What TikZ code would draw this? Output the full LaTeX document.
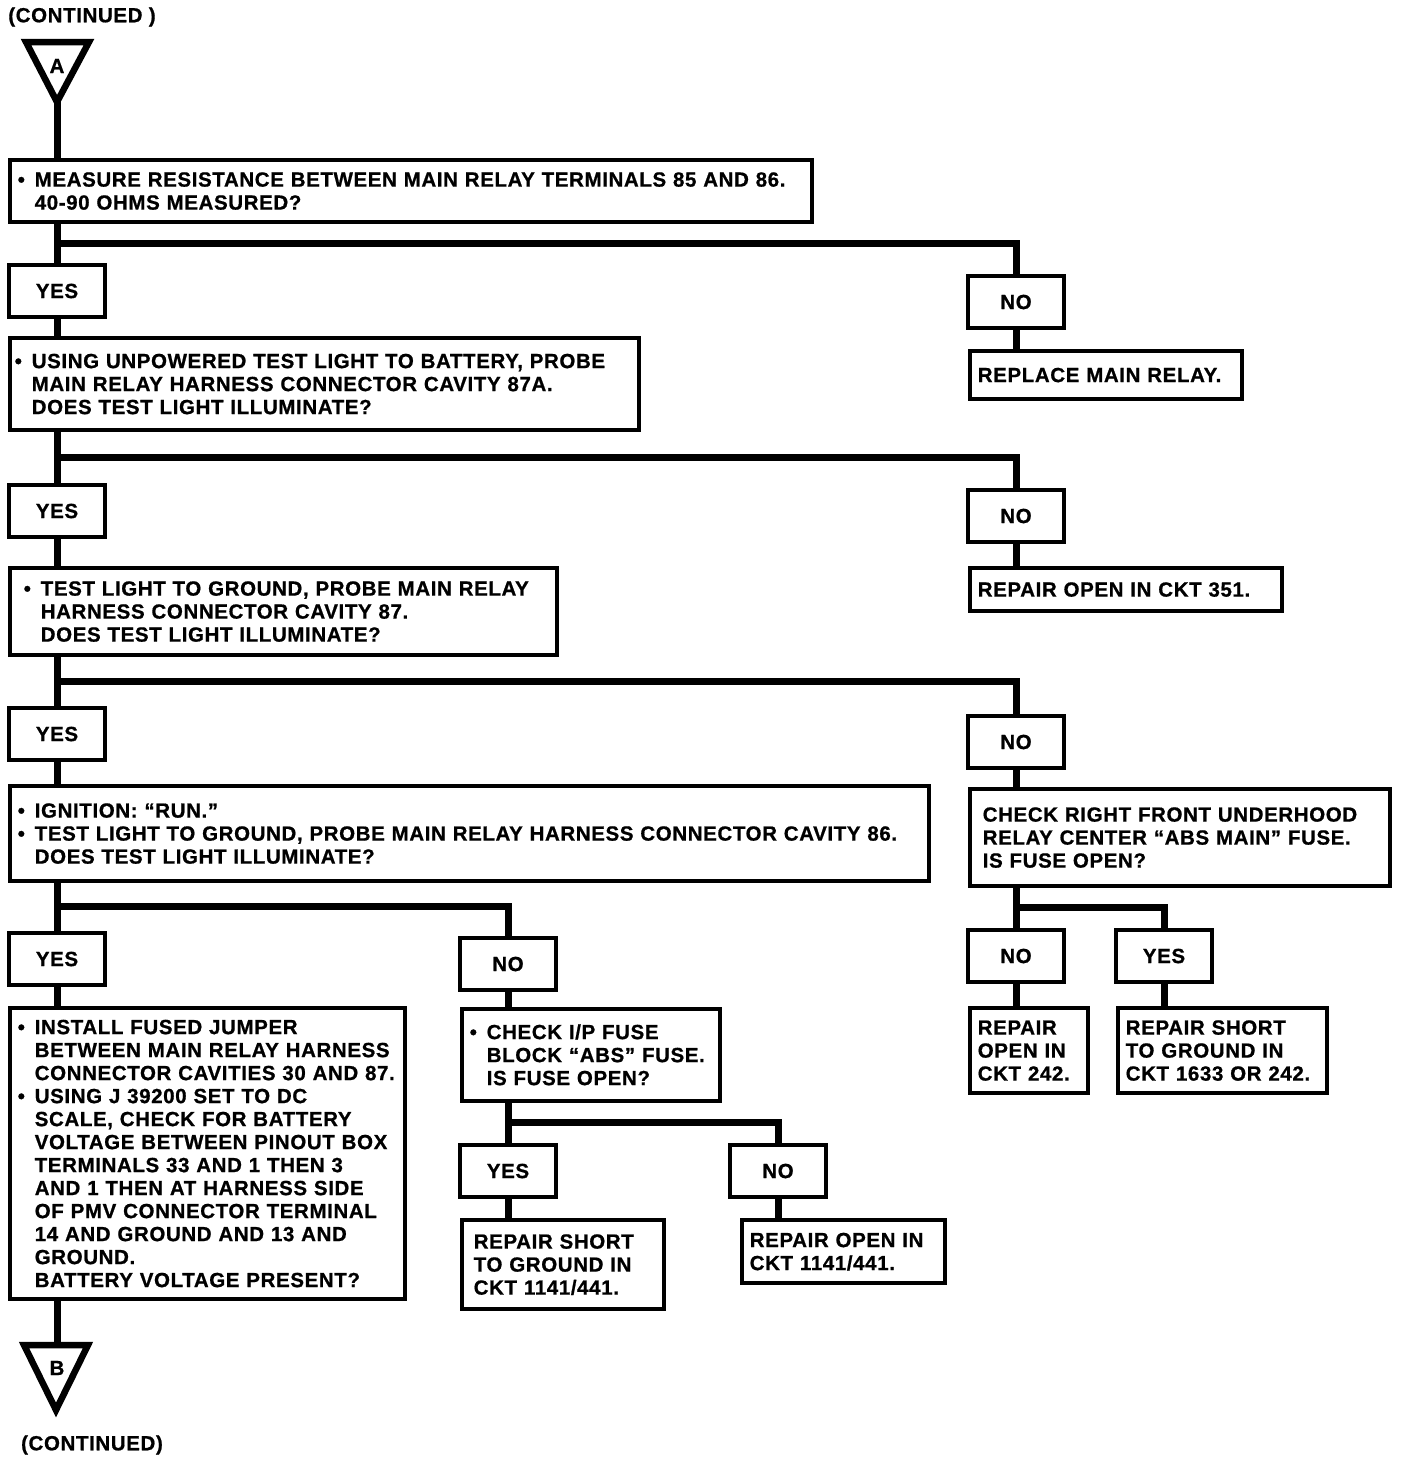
\documentclass[tikz,border=0pt]{standalone}
\usepackage{fontspec}
\setmainfont{Liberation Sans}[LetterSpace=3, BoldFeatures={FakeBold=0.8}]
\usetikzlibrary{positioning,calc}

\newcommand\chartfont{\fontsize{20.5}{23}\selectfont\bfseries}
\newcommand\bul{\makebox[17pt][l]{\textbullet}}
\newcommand\ind{\hspace*{17pt}}
\newcommand\lines[1]{\raisebox{-2.75pt}[\height][\depth]{\begin{tabular}{@{}l@{}}#1\end{tabular}}}

\tikzset{
  stepbox/.style={draw, line width=3.5pt, anchor=north west, align=left,
    inner xsep=8pt, inner ysep=3pt, font=\chartfont},
  ansbox/.style={draw, line width=3.5pt, minimum width=96pt, minimum height=52pt,
    inner sep=0pt, font=\chartfont},
  flow/.style={line width=7pt},
  marker/.style={line width=6.5pt, line join=miter},
}

\begin{document}
\begin{tikzpicture}[x=1pt,y=1pt,yscale=-1]
\useasboundingbox (0,0) rectangle (1408,1462);

%Shape: Triangle A
\draw[marker] (26,42) -- (89,42) -- (57,102) -- cycle;
\coordinate (apexA) at (57,102);
% Text Node
\node[font=\chartfont] (contA) at (82,17) {(CONTINUED )};
\node[font=\chartfont] (lblA) at (57,66) {A};

% column 1
\node[stepbox, text width=786pt, minimum height=62pt] (measure) at (8,158)
  {\lines{\bul MEASURE RESISTANCE BETWEEN MAIN RELAY TERMINALS 85 AND 86.\\
   \ind 40-90 OHMS MEASURED?}};
\node[ansbox] (yes1) at (57,291) {YES};
\node[ansbox] (no1) at (1016,302) {NO};
\node[stepbox, text width=256pt, minimum height=48pt] (replace) at (968,349)
  {\lines{REPLACE MAIN RELAY.}};

\node[stepbox, inner xsep=5pt, text width=619pt, minimum height=92pt] (probeA) at (8,336)
  {\lines{\bul USING UNPOWERED TEST LIGHT TO BATTERY, PROBE\\
   \ind MAIN RELAY HARNESS CONNECTOR CAVITY 87A.\\
   \ind DOES TEST LIGHT ILLUMINATE?}};
\node[ansbox] (yes2) at (57,511) {YES};
\node[ansbox] (no2) at (1016,516) {NO};
\node[stepbox, text width=296pt, minimum height=43pt] (open351) at (968,566)
  {\lines{REPAIR OPEN IN CKT 351.}};

\node[stepbox, text width=531pt, minimum height=87pt] (probe87) at (8,566)
  {\lines{\hspace*{6pt}\bul TEST LIGHT TO GROUND, PROBE MAIN RELAY\\
   \hspace*{6pt}\ind HARNESS CONNECTOR CAVITY 87.\\
   \hspace*{6pt}\ind DOES TEST LIGHT ILLUMINATE?}};
\node[ansbox] (yes3) at (57,734) {YES};
\node[ansbox] (no3) at (1016,742) {NO};

\node[stepbox, text width=903pt, minimum height=95pt] (probe86) at (8,784)
  {\lines{\bul IGNITION: “RUN.”\\
   \bul TEST LIGHT TO GROUND, PROBE MAIN RELAY HARNESS CONNECTOR CAVITY 86.\\
   \ind DOES TEST LIGHT ILLUMINATE?}};
\node[stepbox, inner xsep=13pt, text width=394pt, minimum height=97pt] (mainfuse) at (968,787)
  {\lines{CHECK RIGHT FRONT UNDERHOOD\\
   RELAY CENTER “ABS MAIN” FUSE.\\
   IS FUSE OPEN?}};

\node[ansbox] (yes4) at (57,959) {YES};
\node[ansbox] (no4) at (508,964) {NO};
\node[stepbox, text width=379pt, minimum height=291pt] (jumper) at (8,1006)
  {\lines{\bul INSTALL FUSED JUMPER\\
   \ind BETWEEN MAIN RELAY HARNESS\\
   \ind CONNECTOR CAVITIES 30 AND 87.\\
   \bul USING J 39200 SET TO DC\\
   \ind SCALE, CHECK FOR BATTERY\\
   \ind VOLTAGE BETWEEN PINOUT BOX\\
   \ind TERMINALS 33 AND 1 THEN 3\\
   \ind AND 1 THEN AT HARNESS SIDE\\
   \ind OF PMV CONNECTOR TERMINAL\\
   \ind 14 AND GROUND AND 13 AND\\
   \ind GROUND.\\
   \ind BATTERY VOLTAGE PRESENT?}};
\node[stepbox, text width=242pt, minimum height=92pt] (ipfuse) at (460,1007)
  {\lines{\bul CHECK I/P FUSE\\
   \ind BLOCK “ABS” FUSE.\\
   \ind IS FUSE OPEN?}};
\node[ansbox] (yes5) at (508,1171) {YES};
\node[ansbox] (no5) at (778,1171) {NO};
\node[stepbox, inner xsep=12pt, text width=178pt, minimum height=89pt] (short1141) at (460,1218)
  {\lines{REPAIR SHORT\\ TO GROUND IN\\ CKT 1141/441.}};
\node[stepbox, text width=187pt, minimum height=63pt] (open1141) at (740,1218)
  {\lines{REPAIR OPEN IN\\ CKT 1141/441.}};

\node[ansbox] (no6) at (1016,956) {NO};
\node[ansbox] (yes6) at (1164,956) {YES};
\node[stepbox, text width=102pt, minimum height=85pt] (open242) at (968,1006)
  {\lines{REPAIR\\ OPEN IN\\ CKT 242.}};
\node[stepbox, text width=193pt, minimum height=85pt] (short1633) at (1116,1006)
  {\lines{REPAIR SHORT\\ TO GROUND IN\\ CKT 1633 OR 242.}};

%Shape: Triangle B
\draw[marker] (24,1345) -- (88,1345) -- (56,1410) -- cycle;
\coordinate (topB) at (57,1345);
\node[font=\chartfont] (lblB) at (57,1368) {B};
\node[font=\chartfont] (contB) at (92,1445) {(CONTINUED)};

% junctions
\coordinate (j1) at ($(yes1 |- measure.south)!0.5!(yes1.north)$);
\coordinate (j2) at ($(yes2 |- probeA.south)!0.5!(yes2.north)$);
\coordinate (j3) at ($(yes3 |- probe87.south)!0.5!(yes3.north)$);
\coordinate (j4) at ($(yes4 |- probe86.south)!0.5!(yes4.north)$);
\coordinate (j5) at ($(yes5 |- ipfuse.south)!0.5!(yes5.north)$);
\coordinate (j6) at ($(no6 |- mainfuse.south)!0.5!(no6.north)$);

% connectors
\draw[flow] (apexA) -- (apexA |- measure.north);
\draw[flow] (yes1 |- measure.south) -- (yes1.north);
\draw[flow] (j1) -| (no1.north);
\draw[flow] (no1.south) -- (no1 |- replace.north);
\draw[flow] (yes1.south) -- (yes1 |- probeA.north);

\draw[flow] (yes2 |- probeA.south) -- (yes2.north);
\draw[flow] (j2) -| (no2.north);
\draw[flow] (no2.south) -- (no2 |- open351.north);
\draw[flow] (yes2.south) -- (yes2 |- probe87.north);

\draw[flow] (yes3 |- probe87.south) -- (yes3.north);
\draw[flow] (j3) -| (no3.north);
\draw[flow] (no3.south) -- (no3 |- mainfuse.north);
\draw[flow] (yes3.south) -- (yes3 |- probe86.north);

\draw[flow] (yes4 |- probe86.south) -- (yes4.north);
\draw[flow] (j4) -| (no4.north);
\draw[flow] (yes4.south) -- (yes4 |- jumper.north);
\draw[flow] (no4.south) -- (no4 |- ipfuse.north);

\draw[flow] (yes5 |- ipfuse.south) -- (yes5.north);
\draw[flow] (j5) -| (no5.north);
\draw[flow] (yes5.south) -- (yes5 |- short1141.north);
\draw[flow] (no5.south) -- (no5 |- open1141.north);

\draw[flow] (no6 |- mainfuse.south) -- (no6.north);
\draw[flow] (j6) -| (yes6.north);
\draw[flow] (no6.south) -- (no6 |- open242.north);
\draw[flow] (yes6.south) -- (yes6 |- short1633.north);

\draw[flow] (topB |- jumper.south) -- (topB);

\end{tikzpicture}
\end{document}
